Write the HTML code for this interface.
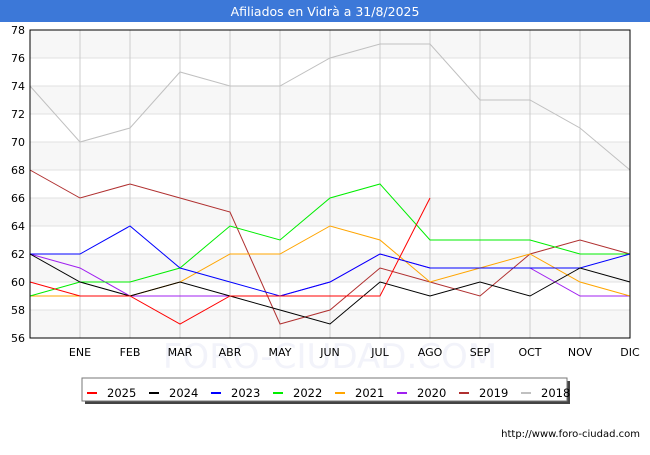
<!DOCTYPE html>
<html><head><meta charset="utf-8"><style>
body{margin:0;background:#fff;font-family:"Liberation Sans","DejaVu Sans",sans-serif}
</style></head><body>
<svg width="650" height="450" xmlns="http://www.w3.org/2000/svg" font-family="'DejaVu Sans','Liberation Sans',sans-serif">
<rect x="0" y="0" width="650" height="22" fill="#3c78d8"/>
<text x="325" y="16" fill="#fff" font-size="12.5" text-anchor="middle">Afiliados en Vidrà a 31/8/2025</text>
<text x="330" y="368" font-size="34" fill="#f2f3fa" text-anchor="middle">FORO-CIUDAD.COM</text>
<g id="grid"></g>
<g id="series"></g>
<rect x="30" y="30" width="600" height="308" fill="none" stroke="#000" stroke-width="1"/>
<g id="legend"></g>
<text x="640" y="437" font-size="10" text-anchor="end" fill="#000">http://www.foro-ciudad.com</text>
</svg>
<script>
const months=["","ENE","FEB","MAR","ABR","MAY","JUN","JUL","AGO","SEP","OCT","NOV","DIC"];
const yTicks=[56,58,60,62,64,66,68,70,72,74,76,78];
const seriesNames=["2025","2024","2023","2022","2021","2020","2019","2018"];
const colors=["#ff0000","#000000","#0000ff","#00ee00","#ffa500","#a020f0","#b03030","#c0c0c0"];
const s2025=[60,59,59,57,59,59,59,59,66];
const s2024=[62,60,59,60,59,58,57,60,59,60,59,61,60];
const s2023=[62,62,64,61,60,59,60,62,61,61,61,61,62];
const s2022=[59,60,60,61,64,63,66,67,63,63,63,62,62];
const s2021=[59,59,59,60,62,62,64,63,60,61,62,60,59];
const s2020=[62,61,59,59,59,59,60,62,61,61,61,59,59];
const s2019=[68,66,67,66,65,57,58,61,60,59,62,63,62];
const s2018=[74,70,71,75,74,74,76,77,77,73,73,71,68];
const allSeries=[s2025,s2024,s2023,s2022,s2021,s2020,s2019,s2018];
const NS="http://www.w3.org/2000/svg";
const X0=30,X1=630,Y0=338,Y1=30,ymin=56,ymax=78;
const xs=i=>X0+i*(X1-X0)/12;
const ys=v=>Y0-(v-ymin)*(Y0-Y1)/(ymax-ymin);
function mk(t,a,p){const e=document.createElementNS(NS,t);for(const k in a)e.setAttribute(k,a[k]);p.appendChild(e);return e;}
const g=document.getElementById('grid');
for(let i=0;i<yTicks.length-1;i++){
  if(i%2===0){const b=mk('rect',{x:X0,y:ys(yTicks[i+1]),width:X1-X0,height:ys(yTicks[i])-ys(yTicks[i+1]),fill:'#f7f7f7'},g);
  
  }
}
yTicks.forEach(v=>{
  const l=mk('line',{x1:X0,x2:X1,y1:ys(v),y2:ys(v),stroke:'#e0e0e0'},g);
  
  
  const t=mk('text',{x:X0-5,y:ys(v)+4,'font-size':11,'text-anchor':'end'},g);t.textContent=v;
  
  
});
months.forEach((m,i)=>{
  if(i>0){const l=mk('line',{x1:xs(i),x2:xs(i),y1:Y1,y2:Y0,stroke:'#cccccc'},g);
  
  }
  if(m){const t=mk('text',{x:xs(i),y:356,'font-size':11,'text-anchor':'middle'},g);t.textContent=m;
  
  }
});
const sg=document.getElementById('series');
for(let k=allSeries.length-1;k>=0;k--){
  const pts=allSeries[k].map((v,i)=>xs(i)+','+ys(v)).join(' ');
  const p=mk('polyline',{points:pts,fill:'none',stroke:colors[k],'stroke-width':1},sg);
  
  
}
const lg=document.getElementById('legend');
const sh=mk('rect',{x:85,y:381,width:485,height:23,fill:'#444'},lg);


const box=mk('rect',{x:82,y:378,width:485,height:23,fill:'#fff',stroke:'#777'},lg);


seriesNames.forEach((n,i)=>{
  const x=87+i*62;
  const l=mk('line',{x1:x,x2:x+10,y1:393,y2:393,stroke:colors[i],'stroke-width':2},lg);
  
  
  const t=mk('text',{x:x+20,y:397,'font-size':11.5},lg);t.textContent=n;
  
  
});
</script>
</body></html>
